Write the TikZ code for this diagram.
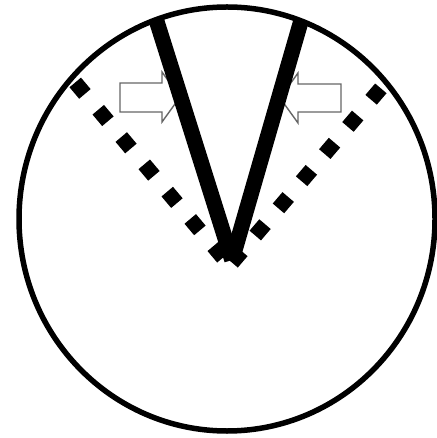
\documentclass[tikz,border=0pt]{standalone}
\usetikzlibrary{calc}

\begin{document}
\begin{tikzpicture}[
            x=0.02cm, y=-0.02cm,
            rim/.style={line width=0.11cm},
            beam/.style={line width=0.31cm, line cap=butt},
            trail/.style={line width=0.3cm, dash pattern=on 0.3cm off 0.414cm},
            hollow/.style={draw=gray!80!black, fill=white, line width=0.8pt}
        ]
            \useasboundingbox (0,0) rectangle (436,438);
            % Points
            \coordinate (o) at (227,219);
            \coordinate (apex) at (232,260);
            \coordinate (ltop) at (156,19);
            \coordinate (rtop) at (301,21);
            \coordinate (lstart) at (222.9,257.7);
            \coordinate (lend) at (75.1,82.3);
            \coordinate (rstart) at (232.1,262.7);
            \coordinate (rend) at (380.9,88.3);

            % Rim
            \draw[rim] (o) ellipse [x radius=208, y radius=212];

            % Dotted lines
            \draw[trail] (lstart) -- (lend);
            \draw[trail] (rstart) -- (rend);

            % Hollow arrows
            \draw[hollow] (120,83) -- (162,83) -- (162,72) -- (180,97) -- (162,122) -- (162,112) -- (120,112) -- cycle;
            \draw[hollow] (341,84) -- (298,84) -- (298,73) -- (280,98) -- (298,123) -- (298,112) -- (341,112) -- cycle;

            % V lines
            \begin{scope}
                \clip (o) ellipse [x radius=211, y radius=215];
                \draw[beam] (ltop) -- (apex);
                \draw[beam] (rtop) -- (apex);
            \end{scope}
        \end{tikzpicture}
\end{document}
